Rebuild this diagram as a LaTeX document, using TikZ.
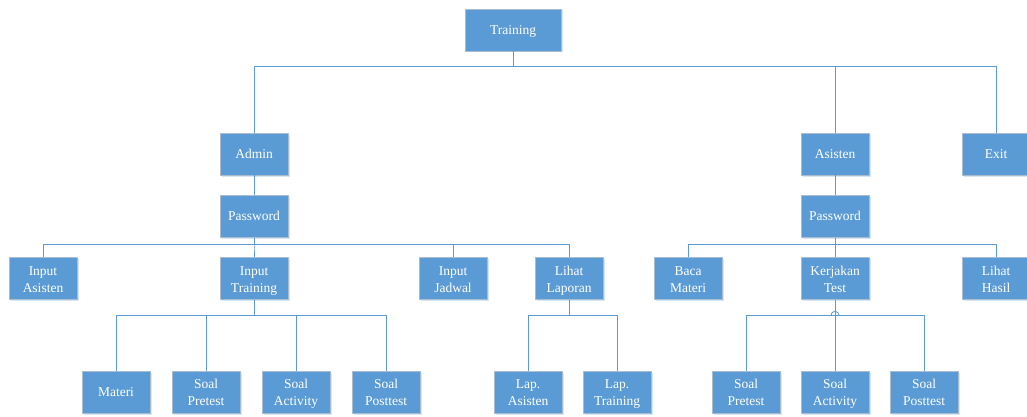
\documentclass[tikz,border=0pt]{standalone}
\usepackage{fontspec}
\setmainfont{Liberation Serif}
\usetikzlibrary{shadows,calc}
\definecolor{boxblue}{HTML}{5B9BD5}
\definecolor{boxedge}{HTML}{A9BCD0}
\newcommand{\onel}[1]{\rule[-4.4pt]{0pt}{17pt}#1}
\newcommand{\twol}[2]{\rule{0pt}{13.5pt}#1\\#2\rule[-3.5pt]{0pt}{3.5pt}}
\begin{document}
\begin{tikzpicture}[x=1pt,y=-1pt,
  box/.style={rectangle, fill=boxblue, draw=boxedge, line width=0.7pt,
    minimum width=68pt, minimum height=42pt, inner sep=1pt, align=center,
    text=white, font=\fontsize{13.5}{17}\selectfont,
    drop shadow={shadow xshift=1.5pt, shadow yshift=-1.5pt, fill=boxblue, opacity=0.25}},
  conn/.style={draw=boxblue, line width=0.9pt}]
\useasboundingbox (0,0) rectangle (1027,417);

% level 0
\node[box, minimum width=96pt] (train) at (513,30) {\onel{Training}};
% level 1
\node[box] (admin) at (254,154) {\onel{Admin}};
\node[box] (asisten) at (835,154) {\onel{Asisten}};
\node[box] (exit) at (996,154) {\onel{Exit}};
% level 2
\node[box] (pwa) at (254,216.5) {\onel{Password}};
\node[box] (pwb) at (835,216.5) {\onel{Password}};
% level 3
\node[box] (ias) at (43,278.5) {\twol{Input}{Asisten}};
\node[box] (itr) at (254,278.5) {\twol{Input}{Training}};
\node[box] (ijd) at (453,278.5) {\twol{Input}{Jadwal}};
\node[box] (lap) at (569,278.5) {\twol{Lihat}{Laporan}};
\node[box] (baca) at (688,278.5) {\twol{Baca}{Materi}};
\node[box] (kt) at (835,278.5) {\twol{Kerjakan}{Test}};
\node[box] (hasil) at (996,278.5) {\twol{Lihat}{Hasil}};
% level 4
\node[box] (materi) at (116,392) {\onel{Materi}};
\node[box] (spa) at (206,392) {\twol{Soal}{Pretest}};
\node[box] (saa) at (296,392) {\twol{Soal}{Activity}};
\node[box] (spoa) at (386,392) {\twol{Soal}{Posttest}};
\node[box] (lasis) at (528,392) {\twol{Lap.}{Asisten}};
\node[box] (ltr) at (617,392) {\twol{Lap.}{Training}};
\node[box] (spb) at (746,392) {\twol{Soal}{Pretest}};
\node[box] (sab) at (835,392) {\twol{Soal}{Activity}};
\node[box] (spob) at (924,392) {\twol{Soal}{Posttest}};

% connectors
\foreach \c in {admin,asisten,exit}
  \draw[conn] (train.south) -- ++(0,15) -| (\c.north);
\draw[conn] (admin.south) -- (pwa.north);
\draw[conn] (asisten.south) -- (pwb.north);
\foreach \c in {ias,itr,ijd,lap}
  \draw[conn] (pwa.south) -- ++(0,7) -| (\c.north);
\foreach \c in {baca,kt,hasil}
  \draw[conn] (pwb.south) -- ++(0,7) -| (\c.north);
\foreach \c in {materi,spa,saa,spoa}
  \draw[conn] (itr.south) -- ++(0,15.5) -| (\c.north);
\foreach \c in {lasis,ltr}
  \draw[conn] (lap.south) -- ++(0,15.5) -| (\c.north);
\foreach \c in {spb,sab,spob}
  \draw[conn] (kt.south) -- ++(0,15.5) -| (\c.north);
\coordinate (hop) at ($(kt.south)+(0,15.5)$);
\draw[conn] ($(hop)+(-4,0)$) arc[start angle=180, end angle=0, radius=4pt];
\end{tikzpicture}
\end{document}
